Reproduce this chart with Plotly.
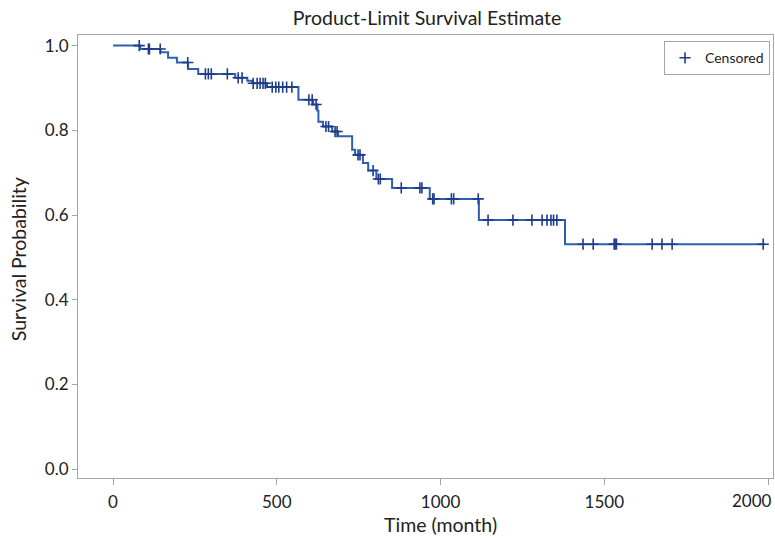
import plotly.graph_objects as go

# Kaplan-Meier step curve
step_times = [0, 83, 145, 168, 195, 229, 260, 373, 410, 425, 470, 566, 611, 624, 627,
              641, 669, 687, 730, 739, 763, 779, 804, 852, 967, 1117, 1380, 1991]
step_surv = [1.0, 0.992, 0.984, 0.971, 0.960, 0.945, 0.933, 0.924, 0.917, 0.911, 0.902,
             0.872, 0.861, 0.846, 0.820, 0.809, 0.797, 0.786, 0.754, 0.742, 0.723, 0.705,
             0.685, 0.664, 0.638, 0.588, 0.531, 0.531]

# Censored observations
censor_times = [80, 108, 111, 144, 228, 282, 291, 300, 349, 382, 394,
                428, 440, 449, 458, 465, 486, 497, 506, 518, 530, 546,
                598, 608, 620, 650, 658, 678, 684, 748, 754, 794, 810, 816,
                880, 937, 943, 976, 980, 1033, 1040, 1115,
                1145, 1221, 1279, 1310, 1325, 1337, 1345, 1355,
                1435, 1466, 1530, 1533, 1537, 1646, 1676, 1707, 1985]
censor_surv = [1.0, 0.992, 0.992, 0.992, 0.960, 0.933, 0.933, 0.933, 0.933, 0.924, 0.924,
               0.911, 0.911, 0.911, 0.911, 0.911, 0.902, 0.902, 0.902, 0.902, 0.902, 0.902,
               0.872, 0.872, 0.861, 0.809, 0.809, 0.797, 0.797, 0.742, 0.742, 0.705, 0.685, 0.685,
               0.664, 0.664, 0.664, 0.638, 0.638, 0.638, 0.638, 0.638,
               0.588, 0.588, 0.588, 0.588, 0.588, 0.588, 0.588, 0.588,
               0.531, 0.531, 0.531, 0.531, 0.531, 0.531, 0.531, 0.531, 0.531]

x_ticks = [0, 500, 1000, 1500, 2000]
y_ticks = [0.0, 0.2, 0.4, 0.6, 0.8, 1.0]

LINE = "#2d5fb0"
MARK = "#1f3c8c"
AXIS = "#a6a6a6"
FONT = "Lato"
TXT = "#222222"

fig = go.Figure()
fig.add_trace(go.Scatter(x=step_times, y=step_surv, mode="lines", line_shape="hv",
                         line=dict(color=LINE, width=2), showlegend=False, hoverinfo="skip"))
fig.add_trace(go.Scatter(x=censor_times, y=censor_surv, mode="markers", name="Censored",
                         marker=dict(symbol="cross-thin", size=8,
                                     line=dict(color=MARK, width=1.6), color=MARK)))

# last x tick label is right-aligned so it stays inside the page
x_ticktext = [str(v) for v in x_ticks[:-1]] + [""]
annotations = [
    dict(text="Time (month)", x=1000, xref="x", y=-0.106, yref="paper",
         xanchor="center", yanchor="middle", showarrow=False,
         font=dict(size=19.5, family=FONT, color=TXT)),
    dict(text="Survival Probability", x=-0.0863, xref="paper", y=0.494, yref="paper",
         xanchor="center", yanchor="middle", showarrow=False, textangle=-90,
         font=dict(size=19.5, family=FONT, color=TXT)),
    dict(text=str(x_ticks[-1]), x=x_ticks[-1], xref="x", y=-0.0519, yref="paper",
         xanchor="right", yanchor="middle", xshift=6, showarrow=False,
         font=dict(size=17, family=FONT, color=TXT)),
]

fig.update_layout(
    width=775, height=538,
    margin=dict(l=78, r=2, t=35, b=60, autoexpand=False),
    paper_bgcolor="white", plot_bgcolor="white",
    font=dict(family=FONT, size=16, color=TXT),
    title=dict(text="Product-Limit Survival Estimate", x=0.551, xanchor="center",
               y=0.967, yanchor="middle", font=dict(size=19.5, family=FONT, color=TXT)),
    legend=dict(x=0.9957, y=0.986, xanchor="right", yanchor="top",
                bordercolor=AXIS, borderwidth=1, bgcolor="white",
                font=dict(size=14, family=FONT), itemwidth=30,
                tracegroupgap=0),
    showlegend=True,
    annotations=annotations,
)
fig.update_xaxes(range=[-107, 2015], tickvals=x_ticks, ticktext=x_ticktext,
                 showgrid=False, zeroline=False, showline=True, linecolor=AXIS, linewidth=1,
                 mirror=True, ticks="outside", ticklen=6, tickcolor=AXIS, automargin=False,
                 ticklabelstandoff=3, tickfont=dict(size=17))
fig.update_yaxes(range=[-0.021, 1.025], tickvals=y_ticks, ticktext=[f"{v:.1f}" for v in y_ticks],
                 showgrid=False, zeroline=False, showline=True, linecolor=AXIS, linewidth=1,
                 mirror=True, ticks="outside", ticklen=5, tickcolor=AXIS, automargin=False,
                 tickfont=dict(size=17))

fig.write_html("out.html", config={"displayModeBar": False},
               post_script="document.body.style.margin='0';document.body.style.overflow='hidden';")
